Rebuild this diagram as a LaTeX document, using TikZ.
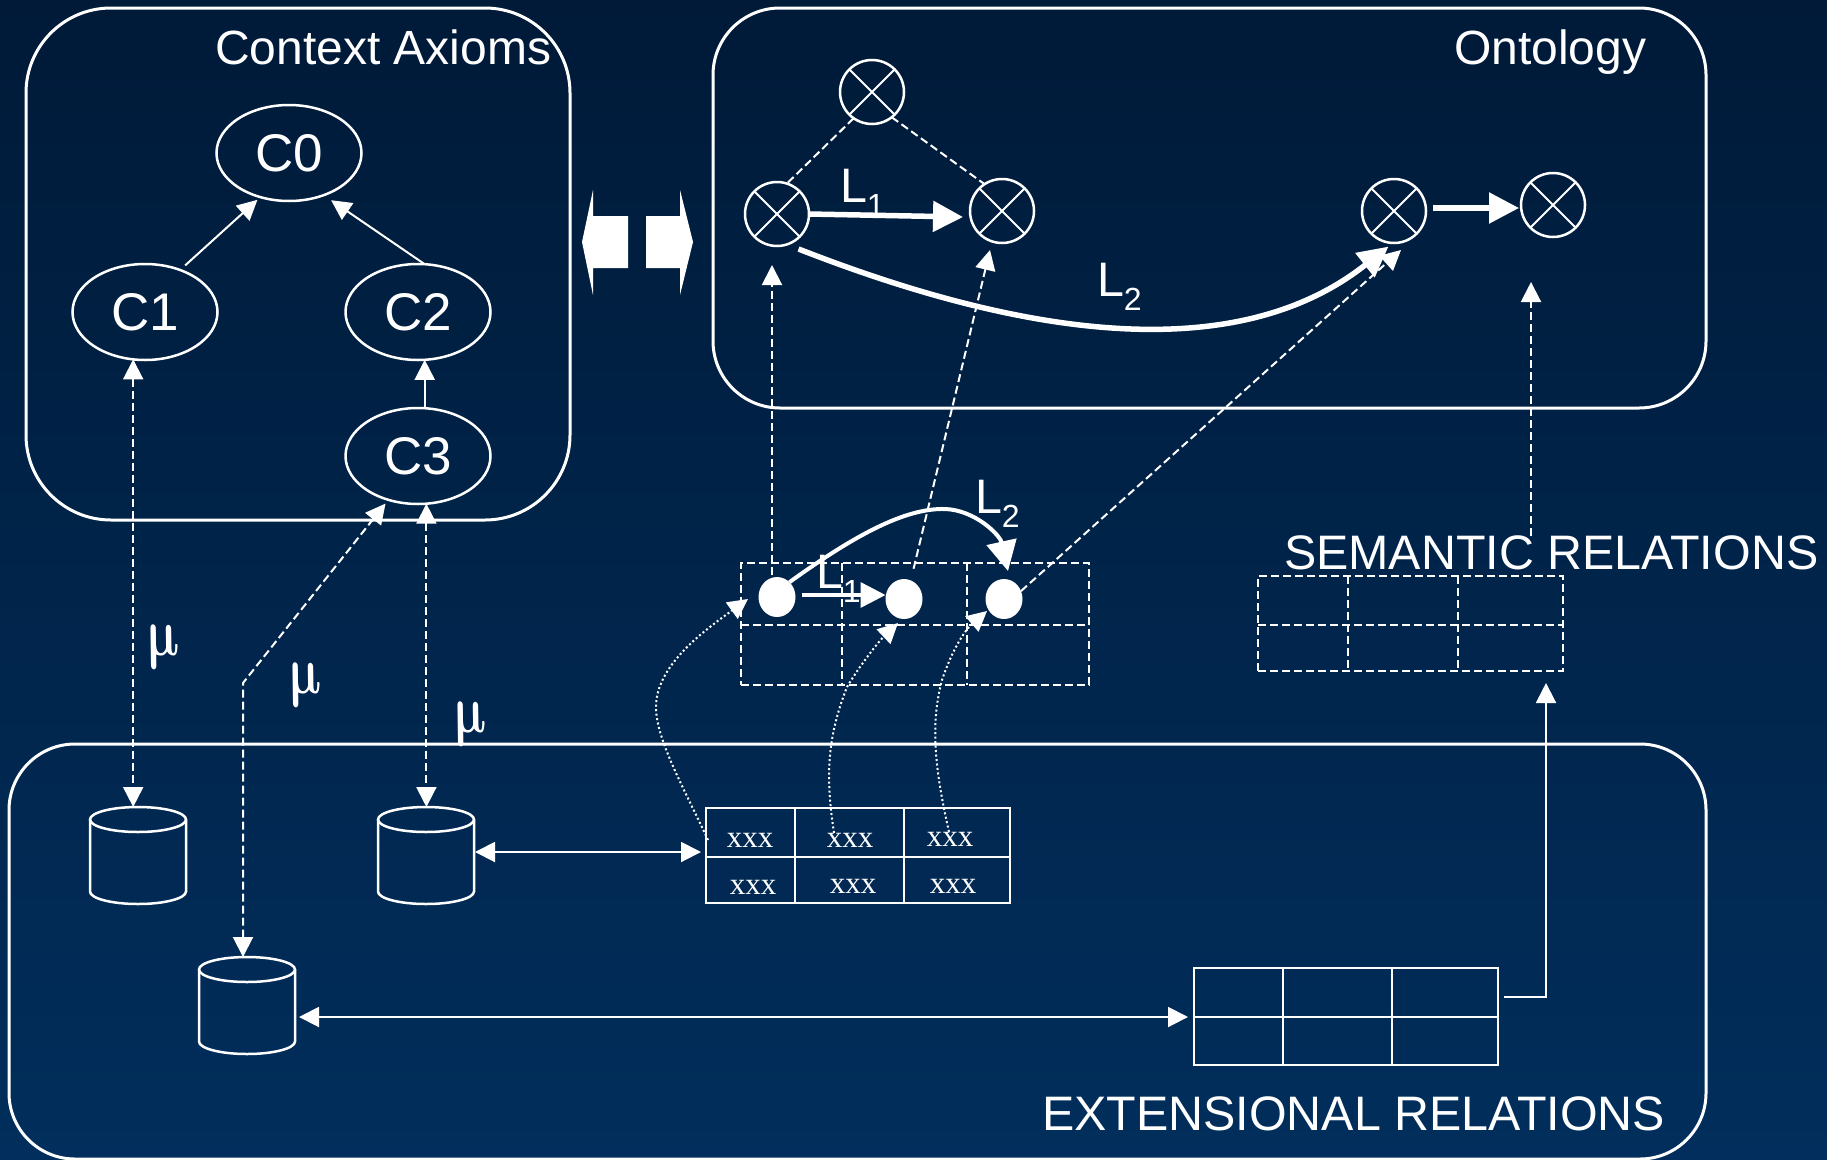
\documentclass[tikz,border=0pt]{standalone}
\usepackage{fontspec}
\setmainfont{Liberation Sans}
\newfontfamily\serifmu{Liberation Serif}
\usetikzlibrary{arrows.meta,shapes.geometric,calc}
\font\muboldfont=cmmib10 at 10pt
\definecolor{bgtop}{HTML}{001A38}
\definecolor{bgbot}{HTML}{012E5C}
\tikzset{
  x=1pt,y=-1pt,
  every node/.style={text=white,inner sep=0pt,outer sep=0pt},
  bigtxt/.style={font=\fontsize{48.4}{56}\selectfont},
  titletxt/.style={font=\fontsize{48}{56}\selectfont},
  panel/.style={draw=white,line width=3pt},
  ctx/.style={draw=white,line width=2.5pt,ellipse,minimum width=145pt,minimum height=96pt,font=\fontsize{53}{62}\selectfont},
  xcirc/.style={draw=white,line width=2.5pt,circle,minimum size=64pt,
    path picture={\draw[white,line width=2pt]
      (path picture bounding box.south west)--(path picture bounding box.north east)
      (path picture bounding box.north west)--(path picture bounding box.south east);}},
  dbbox/.style={minimum width=98pt,minimum height=97pt},
  cylline/.style={draw=white,line width=2.5pt},
  arw/.style={draw=white,line width=2pt,-{Triangle[length=20pt,width=20pt,fill=white]}},
  both/.style={draw=white,line width=2pt,{Triangle[length=20pt,width=20pt,fill=white]}-{Triangle[length=20pt,width=20pt,fill=white]}},
  dashy/.style={dash pattern=on 8pt off 4pt},
  dotty/.style={dash pattern=on 2pt off 2.5pt},
  hvy/.style={draw=white,line width=5.5pt,-{Triangle[length=30pt,width=30pt,fill=white]}},
  tgrid/.style={draw=white,line width=2.5pt},
  dotn/.style={fill=white,ellipse,minimum width=37pt,minimum height=40pt},
  xtxt/.style={font=\fontsize{31}{31}\selectfont\serifmu},
  mutxt/.style={transform shape,anchor=base west},
}
\newcommand{\Lsub}[1]{L\raisebox{-14pt}{\fontsize{32}{32}\selectfont #1}}
\newcommand{\cylpath}[1]{%
  \draw[cylline] ($(#1.north)+(0,12.5)$) ellipse [x radius=48pt,y radius=12.5pt];
  \draw[cylline] ($(#1.north west)+(1,12.5)$) -- ($(#1.south west)+(1,-12.5)$)
     arc [start angle=180,end angle=360,x radius=48pt,y radius=12.5pt]
     -- ($(#1.north east)+(-1,12.5)$);}
\newcommand{\mulab}[3]{\begin{scope}[shift={(#2,#3)},xslant=-.19,xscale=4.8,yscale=6.8]\node[mutxt] (#1) at (0,0) {\muboldfont\char22};\end{scope}}
\begin{document}
\begin{tikzpicture}
\useasboundingbox (0,0) rectangle (1827,1159);
\shade[top color=bgtop,bottom color=bgbot] (0,0) rectangle (1827,1159);

% panels
\node[panel,rounded corners=85pt,minimum width=544pt,minimum height=512pt] (ctxbox) at (298,264) {};
\node[panel,rounded corners=67pt,minimum width=993pt,minimum height=400pt] (ontbox) at (1209.5,208) {};
\node[panel,rounded corners=66pt,minimum width=1697pt,minimum height=415pt] (extbox) at (857.5,951.5) {};
\node[titletxt,anchor=base west] (ctxlab) at (215,64) {Context Axioms};
\node[titletxt,anchor=base west] (ontlab) at (1454,64) {Ontology};
\node[bigtxt,anchor=base west] (semlab) at (1284,569) {SEMANTIC RELATIONS};
\node[bigtxt,anchor=base west] (extlab) at (1042,1130) {EXTENSIONAL RELATIONS};

% context hierarchy
\node[ctx] (c0) at (289,153) {C0};
\node[ctx] (c1) at (145,312) {C1};
\node[ctx] (c2) at (418,312) {C2};
\node[ctx] (c3) at (418,456) {C3};
\draw[arw] ([shift={(4,-5)}]c1.49) -- ([shift={(-2,3)}]c0.236);
\draw[arw] (c2.82) -- ([shift={(5,6)}]c0.-48);
\draw[arw] (c3.82) -- (c2.-82);

% block arrows
\fill[white] (582,242) -- (593,190) -- (593,216) -- (628,216) -- (628,268) -- (593,268) -- (593,295) -- cycle;
\fill[white] (693,242) -- (680,190) -- (680,216) -- (646,216) -- (646,268) -- (680,268) -- (680,295) -- cycle;

% ontology
\node[xcirc] (o0) at (872,92) {};
\node[xcirc] (o1) at (777,214) {};
\node[xcirc] (o2) at (1002,211) {};
\node[xcirc] (o3) at (1394,211) {};
\node[xcirc] (o4) at (1553,205) {};
\draw[white,line width=2pt,dashy] (o0.-125) -- (o1.72);
\draw[white,line width=2pt,dashy] (o0.-52) -- (o2.123);
\draw[hvy] (o1.east) -- ([shift={(-7,6)}]o2.west);
\draw[hvy] ([shift={(7,-3)}]o3.east) -- ([shift={(-2,3)}]o4.west);
\draw[hvy] ([shift={(8,6)}]o1.-65) .. controls (980,320) and (1220,380) .. ([shift={(17,13)}]o3.-135);
\node[bigtxt,anchor=base west] (l1top) at (840,202) {\Lsub{1}};
\node[bigtxt,anchor=base west] (l2top) at (1097,296) {\Lsub{2}};

% semantic table
\node[draw=white,line width=2pt,dashy,minimum width=305pt,minimum height=95pt] (semtbl) at (1410.5,623.5) {};
\draw[white,line width=2pt,dashy] (1258,625) -- (1563,625)
  (1348,576) -- (1348,671) (1458,576) -- (1458,671);
\coordinate (semtop) at (1531,536);

% middle dashed table
\node[draw=white,line width=2.5pt,dashy,minimum width=348pt,minimum height=122pt] (midtbl) at (915,624) {};
\draw[white,line width=2.5pt,dashy] (741,625) -- (1089,625) (842,563) -- (842,685) (967,563) -- (967,685);
\node[dotn] (d1) at (777,597) {};
\node[dotn] (d2) at (904,599) {};
\node[dotn] (d3) at (1004,599) {};
\draw[draw=white,line width=3.5pt,-{Triangle[length=25pt,width=25pt,fill=white]}] (802,595) -- (d2.west |- 0,595);
\draw[draw=white,line width=4pt,-{Triangle[length=30pt,width=30pt,fill=white]}] (d1.50) .. controls (855,535) and (905,508) .. (945,509) .. controls (975,510) and (1000,535) .. ([shift={(4,-8)}]d3.north);
\node[bigtxt,anchor=base west] (l1mid) at (816,588) {\Lsub{1}};
\node[bigtxt,anchor=base west] (l2mid) at (975,513) {\Lsub{2}};

% mapping arrows to ontology
\draw[arw,dashy] (772,575) -- (772,265);
\draw[arw,dashy,shorten <=12pt] (d2.70) -- (990,250);
\draw[arw,dashy] (d3.25) -- (1401,250);
\draw[arw,dashy] (semtop) -- (1531,282);

% databases
\node[dbbox] (db1) at (138,855.5) {};
\node[dbbox] (db2) at (426,855.5) {};
\node[dbbox] (db3) at (247,1005.5) {};
\cylpath{db1}\cylpath{db2}\cylpath{db3}
\coordinate (bend) at (243,683);
\draw[both,dashy] (c1.-104) -- (c1.-104 |- db1.north);
\draw[both,dashy] (c3.-80) -- (c3.-80 |- db2.north);
\draw[both,dashy] (bend |- db3.north) -- (bend) -- ([shift={(-2,4)}]c3.-125);
\mulab{m1}{147}{655}
\mulab{m2}{289}{693}
\mulab{m3}{454}{732}

% solid tables
\node[tgrid,minimum width=304pt,minimum height=95pt] (tblA) at (858,855.5) {};
\draw[tgrid] (706,857) -- (1010,857) (795,808) -- (795,903) (904,808) -- (904,903);
\node[xtxt] (xa1) at (750,840) {xxx};
\node[xtxt] (xa2) at (850,840) {xxx};
\node[xtxt] (xa3) at (950,839) {xxx};
\node[xtxt] (xa4) at (753,887) {xxx};
\node[xtxt] (xa5) at (853,886) {xxx};
\node[xtxt] (xa6) at (953,886) {xxx};
\node[tgrid,minimum width=304pt,minimum height=97pt] (tblB) at (1346,1016.5) {};
\draw[tgrid] (1194,1017) -- (1498,1017) (1283,968) -- (1283,1065) (1392,968) -- (1392,1065);
\draw[both] (db2.east |- 0,852) -- ([xshift=-5pt]tblA.west |- 0,852);
\draw[both] ([xshift=3pt]db3.east |- 0,1017) -- ([xshift=-6pt]tblB.west |- 0,1017);
\coordinate (tout) at (1504,997);
\draw[arw] (tout) -- (1546,997) -- (1546,683);

% dotted provenance
\coordinate (p1) at (708,840);
\draw[arw,dotty] (p1) .. controls (685,790) and (656,740) .. (656,707) .. controls (656,665) and (705,630) .. (748,599);
\draw[arw,dotty] (xa2.north -| 834,0) .. controls (826,780) and (826,740) .. (847,687) .. controls (860,665) and (880,640) .. (898,623);
\draw[arw,dotty] (xa3.north -| 949,0) .. controls (935,770) and (930,725) .. (942,680) .. controls (952,650) and (965,630) .. (987,611);
\end{tikzpicture}
\end{document}
